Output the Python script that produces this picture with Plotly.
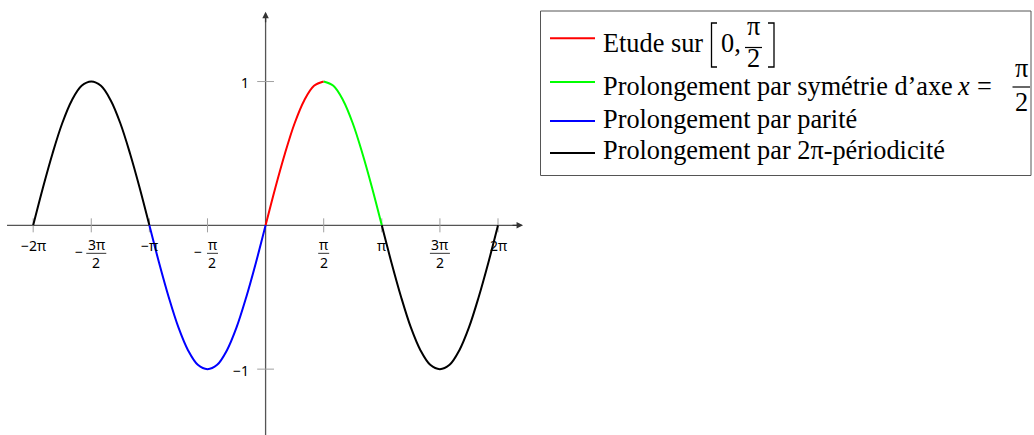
import math
import plotly.graph_objects as go

PI = math.pi
W, H = 1034, 435

# ---- data (x in units of pi, y) ----
red_x_pi = [0, 1/12, 2/12, 3/12, 4/12, 5/12, 6/12]
red_y = [0, 0.26, 0.50, 0.71, 0.87, 0.97, 1.00]

green_x_pi = [6/12, 7/12, 8/12, 9/12, 10/12, 11/12, 1]
green_y = [1.00, 0.97, 0.87, 0.71, 0.50, 0.26, 0]

blue_x_pi = [-1, -11/12, -10/12, -9/12, -8/12, -7/12, -6/12,
             -5/12, -4/12, -3/12, -2/12, -1/12, 0]
blue_y = [0, -0.26, -0.50, -0.71, -0.87, -0.97, -1.00,
          -0.97, -0.87, -0.71, -0.50, -0.26, 0]

black_left_x_pi = [-2, -23/12, -22/12, -21/12, -20/12, -19/12, -18/12,
                   -17/12, -16/12, -15/12, -14/12, -13/12, -1]
black_left_y = [0, 0.26, 0.50, 0.71, 0.87, 0.97, 1.00,
                0.97, 0.87, 0.71, 0.50, 0.26, 0]

black_right_x_pi = [1, 13/12, 14/12, 15/12, 16/12, 17/12, 18/12,
                    19/12, 20/12, 21/12, 22/12, 23/12, 2]
black_right_y = [0, -0.26, -0.50, -0.71, -0.87, -0.97, -1.00,
                 -0.97, -0.87, -0.71, -0.50, -0.26, 0]

xtick_pi = [-2, -1.5, -1, -0.5, 0.5, 1, 1.5, 2]
xtick_labels = ["−2π", "−3π/2", "−π", "−π/2", "π/2", "π", "3π/2", "2π"]
ytick_vals = [1, -1]
ytick_labels = ["1", "−1"]

legend_names = ["Etude sur", "Prolongement par symétrie d’axe",
                "Prolongement par parité", "Prolongement par 2π-périodicité"]
legend_colors = ["#ff0000", "#00ff00", "#0000ff", "#000000"]

# ---- helpers ----
def px(p):
    return p / W

def py(p):
    return 1 - p / H

to_x = lambda lst: [v * PI for v in lst]

fig = go.Figure()

curves = [
    (red_x_pi, red_y, "#ff0000"),
    (green_x_pi, green_y, "#00ff00"),
    (blue_x_pi, blue_y, "#0000ff"),
    (black_left_x_pi, black_left_y, "#000000"),
    (black_right_x_pi, black_right_y, "#000000"),
]

# tick marks
fig.add_trace(go.Scatter(
    x=to_x(xtick_pi), y=[0] * len(xtick_pi), mode="markers",
    marker=dict(symbol="line-ns", size=10, line=dict(color="#a0a0a0", width=1)),
    showlegend=False, hoverinfo="skip"))
fig.add_trace(go.Scatter(
    x=[0] * len(ytick_vals), y=ytick_vals, mode="markers",
    marker=dict(symbol="line-ew", size=12, line=dict(color="#a0a0a0", width=1)),
    showlegend=False, hoverinfo="skip"))

for xs, ys, col in curves:
    fig.add_trace(go.Scatter(
        x=to_x(xs), y=ys, mode="lines",
        line=dict(color=col, width=2, shape="spline", smoothing=1.0),
        showlegend=False, hoverinfo="skip"))

shapes = []
annotations = []

# axes lines
XMIN, XMAX = -7.18, 7.148
YMIN, YMAX = -1.458, 1.567
AX_COL = "#555555"
shapes.append(dict(type="line", xref="x", yref="y", x0=-6.99, x1=6.90, y0=0, y1=0,
                   line=dict(color=AX_COL, width=1.3), layer="below"))
shapes.append(dict(type="line", xref="x", yref="y", x0=0, x1=0, y0=YMIN, y1=1.44,
                   line=dict(color=AX_COL, width=1.3), layer="below"))
annotations.append(dict(x=6.96, y=0, xref="x", yref="y", ax=-12, ay=0, text="",
                        showarrow=True, arrowhead=2, arrowsize=1, arrowwidth=1.3,
                        arrowcolor="#333333"))
annotations.append(dict(x=0, y=1.485, xref="x", yref="y", ax=0, ay=12, text="",
                        showarrow=True, arrowhead=2, arrowsize=1, arrowwidth=1.3,
                        arrowcolor="#333333"))

TICK_FONT = dict(family="Noto Sans", size=14, color="#000000")

# x tick labels
for v, lab in zip(xtick_pi, xtick_labels):
    xv = v * PI
    if "/" in lab:
        num, den = lab.split("/")
        minus = num.startswith("−")
        if minus:
            num = num[1:]
        half = 10 if len(num) > 1 else 5.5
        fshift = 5 if minus else 0
        annotations.append(dict(x=xv, y=0, xref="x", yref="y", text=num, showarrow=False,
                                xshift=fshift, yshift=-19, font=TICK_FONT,
                                xanchor="center", yanchor="middle"))
        annotations.append(dict(x=xv, y=0, xref="x", yref="y", text=den, showarrow=False,
                                xshift=fshift, yshift=-37, font=TICK_FONT,
                                xanchor="center", yanchor="middle"))
        shapes.append(dict(type="line", xref="x", yref="y",
                           xsizemode="pixel", xanchor=xv, x0=fshift - half, x1=fshift + half,
                           ysizemode="pixel", yanchor=0, y0=-28, y1=-28,
                           line=dict(color="#000000", width=0.8)))
        if minus:
            mshift = fshift - (17 if len(num) > 1 else 14)
            annotations.append(dict(x=xv, y=0, xref="x", yref="y", text="−", showarrow=False,
                                    xshift=mshift, yshift=-26, font=TICK_FONT,
                                    xanchor="center", yanchor="middle"))
    else:
        annotations.append(dict(x=xv, y=0, xref="x", yref="y", text=lab, showarrow=False,
                                yshift=-20, font=TICK_FONT, xanchor="center", yanchor="middle"))

# y tick labels
for v, lab in zip(ytick_vals, ytick_labels):
    annotations.append(dict(x=0, y=v, xref="x", yref="y", text=lab, showarrow=False,
                            xshift=-15, yshift=-1, font=TICK_FONT,
                            xanchor="right", yanchor="middle"))

# ---- legend (manual) ----
LEG_FONT = dict(family="Liberation Serif", size=26.3, color="#000000")
shapes.append(dict(type="rect", xref="paper", yref="paper",
                   x0=px(540.5), x1=px(1031), y0=py(11), y1=py(175.5),
                   line=dict(color="#555555", width=1), fillcolor="rgba(0,0,0,0)"))
line_ys = [38.3, 82, 121, 153]
text_ys = [43, 86, 119.5, 150.5]
for name, col, ly, ty in zip(legend_names, legend_colors, line_ys, text_ys):
    shapes.append(dict(type="line", xref="paper", yref="paper",
                       x0=px(550), x1=px(595), y0=py(ly), y1=py(ly),
                       line=dict(color=col, width=2)))
    annotations.append(dict(x=px(601), y=py(ty), xref="paper", yref="paper", text=name,
                            showarrow=False, xanchor="left", yanchor="middle", font=LEG_FONT))

# row 1: [0, pi/2]
shapes.append(dict(type="path", xref="paper", yref="paper",
                   path=f"M {px(717)} {py(23)} L {px(711.5)} {py(23)} L {px(711.5)} {py(67)} L {px(717)} {py(67)}",
                   line=dict(color="#000000", width=1.3)))
shapes.append(dict(type="path", xref="paper", yref="paper",
                   path=f"M {px(768)} {py(23)} L {px(774)} {py(23)} L {px(774)} {py(67)} L {px(768)} {py(67)}",
                   line=dict(color="#000000", width=1.3)))
annotations.append(dict(x=px(719), y=py(43), xref="paper", yref="paper", text="0,",
                        showarrow=False, xanchor="left", yanchor="middle", font=LEG_FONT))
annotations.append(dict(x=px(753.5), y=py(26.6), xref="paper", yref="paper", text="π",
                        showarrow=False, xanchor="center", yanchor="middle", font=LEG_FONT))
shapes.append(dict(type="line", xref="paper", yref="paper",
                   x0=px(745), x1=px(762), y0=py(47.5), y1=py(47.5),
                   line=dict(color="#000000", width=1.2)))
annotations.append(dict(x=px(753.5), y=py(58.5), xref="paper", yref="paper", text="2",
                        showarrow=False, xanchor="center", yanchor="middle", font=LEG_FONT))

# row 2: x = pi/2
annotations.append(dict(x=px(955), y=py(86), xref="paper", yref="paper", text="<i>x</i>",
                        showarrow=False, xanchor="left", yanchor="middle", font=LEG_FONT))
annotations.append(dict(x=px(975), y=py(86), xref="paper", yref="paper", text="=",
                        showarrow=False, xanchor="left", yanchor="middle", font=LEG_FONT))
annotations.append(dict(x=px(1021.5), y=py(68.6), xref="paper", yref="paper", text="π",
                        showarrow=False, xanchor="center", yanchor="middle", font=LEG_FONT))
shapes.append(dict(type="line", xref="paper", yref="paper",
                   x0=px(1012.5), x1=px(1030), y0=py(87), y1=py(87),
                   line=dict(color="#000000", width=1.2)))
annotations.append(dict(x=px(1021.5), y=py(102), xref="paper", yref="paper", text="2",
                        showarrow=False, xanchor="center", yanchor="middle", font=LEG_FONT))

fig.update_layout(
    width=W, height=H,
    margin=dict(l=0, r=0, t=0, b=0, pad=0),
    paper_bgcolor="white", plot_bgcolor="white",
    xaxis=dict(domain=[0, 530 / W], range=[XMIN, XMAX], visible=False, fixedrange=True),
    yaxis=dict(domain=[0, 1], range=[YMIN, YMAX], visible=False, fixedrange=True),
    shapes=shapes, annotations=annotations,
    showlegend=False,
)

fig.write_html("out.html", config={"displayModeBar": False},
               post_script="document.body.style.margin='0';")
